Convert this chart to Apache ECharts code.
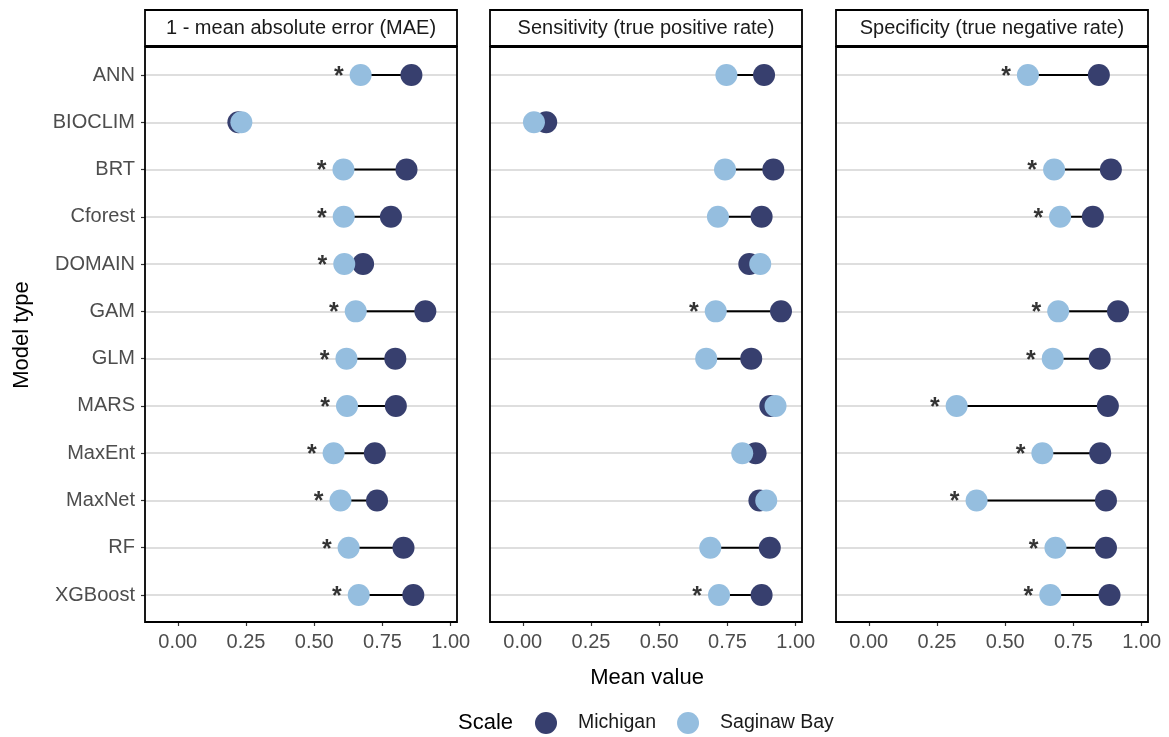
<!DOCTYPE html>
<html>
<head>
<meta charset="utf-8">
<script src="https://cdn.jsdelivr.net/npm/echarts@6/dist/echarts.min.js"></script>
<style>
  html, body { margin: 0; padding: 0; background: #fff; }
  #chart { width: 1169px; height: 737px; }
</style>
</head>
<body>
<div id="chart"></div>
<script>
var categories = ['ANN', 'BIOCLIM', 'BRT', 'Cforest', 'DOMAIN', 'GAM', 'GLM', 'MARS', 'MaxEnt', 'MaxNet', 'RF', 'XGBoost'];
var panelTitles = ['1 - mean absolute error (MAE)', 'Sensitivity (true positive rate)', 'Specificity (true negative rate)'];
var xTicks = [0, 0.25, 0.5, 0.75, 1];

// 1 - MAE
var maeMichigan = [0.856, 0.222, 0.838, 0.781, 0.679, 0.907, 0.797, 0.799, 0.722, 0.730, 0.827, 0.863];
var maeSaginaw  = [0.670, 0.233, 0.607, 0.608, 0.610, 0.652, 0.618, 0.620, 0.571, 0.596, 0.626, 0.663];
var maeSig      = [1, 0, 1, 1, 1, 1, 1, 1, 1, 1, 1, 1];
// sensitivity
var sensMichigan = [0.884, 0.086, 0.918, 0.875, 0.830, 0.946, 0.837, 0.907, 0.853, 0.867, 0.905, 0.875];
var sensSaginaw  = [0.746, 0.041, 0.741, 0.715, 0.870, 0.707, 0.672, 0.926, 0.804, 0.892, 0.687, 0.719];
var sensSig      = [0, 0, 0, 0, 0, 1, 0, 0, 0, 0, 0, 1];
// specificity
var specMichigan = [0.843, null, 0.887, 0.821, null, 0.913, 0.846, 0.876, 0.848, 0.869, 0.869, 0.882];
var specSaginaw  = [0.583, null, 0.679, 0.701, null, 0.694, 0.674, 0.322, 0.636, 0.395, 0.684, 0.665];
var specSig      = [1, 0, 1, 1, 0, 1, 1, 1, 1, 1, 1, 1];

var panels = [
  [maeMichigan, maeSaginaw, maeSig],
  [sensMichigan, sensSaginaw, sensSig],
  [specMichigan, specSaginaw, specSig]
];

var FONT = '"Liberation Sans", Arial, sans-serif';
var DARK = '#373F6E', LIGHT = '#95BEDF';
var lefts = [145, 490, 836];
var PW = 312, FRAME_TOP = 47, FRAME_BOTTOM = 622;
var GRID_TOP = 75, GRID_H = 520;

var myChart = echarts.init(document.getElementById('chart'), null, { renderer: 'canvas' });

var grids = [], xAxes = [], yAxes = [], series = [], graphics = [];

panels.forEach(function (p, k) {
  var mi = p[0], sb = p[1], sig = p[2];
  grids.push({ left: lefts[k], top: GRID_TOP, width: PW, height: GRID_H });
  xAxes.push({
    type: 'value', gridIndex: k, min: -0.12, max: 1.023, position: 'bottom',
    offset: FRAME_BOTTOM - (GRID_TOP + GRID_H),
    axisLine: { show: false, onZero: false },
    axisTick: { show: true, length: 4, customValues: xTicks, lineStyle: { color: '#333', width: 1.2 } },
    axisLabel: { customValues: xTicks, formatter: function (v) { return v.toFixed(2); },
      color: '#4d4d4d', fontSize: 20, fontFamily: FONT, margin: 10 },
    splitLine: { show: false }
  });
  yAxes.push({
    type: 'value', gridIndex: k, inverse: true, min: 0, max: 11, interval: 1, position: 'left',
    axisLine: { show: false, onZero: false },
    axisTick: { show: k === 0, length: 4, lineStyle: { color: '#333', width: 1.2 } },
    axisLabel: { show: k === 0, formatter: function (v) { return categories[v] || ''; },
      color: '#4d4d4d', fontSize: 20, fontFamily: FONT, margin: 10 },
    splitLine: { show: true, lineStyle: { color: '#d3d3d3', width: 1.5 } }
  });

  var seg = [], dMi = [], dSb = [], dSig = [];
  categories.forEach(function (c, i) {
    if (mi[i] == null || sb[i] == null) return;
    seg.push([mi[i], sb[i], i]);
    dMi.push([mi[i], i]);
    dSb.push([sb[i], i]);
    if (sig[i]) dSig.push([Math.min(mi[i], sb[i]), i]);
  });

  series.push({
    type: 'custom', xAxisIndex: k, yAxisIndex: k, silent: true, z: 2,
    data: seg, encode: { x: [0, 1], y: 2 },
    renderItem: function (params, api) {
      var a = api.coord([api.value(0), api.value(2)]);
      var b = api.coord([api.value(1), api.value(2)]);
      return { type: 'line', shape: { x1: a[0], y1: a[1], x2: b[0], y2: b[1] },
        style: { stroke: '#000', lineWidth: 2 } };
    }
  });
  series.push({
    name: 'Michigan', type: 'scatter', xAxisIndex: k, yAxisIndex: k, z: 3, clip: false,
    symbolSize: 22, itemStyle: { color: DARK, opacity: 1 }, data: dMi
  });
  series.push({
    name: 'Saginaw Bay', type: 'scatter', xAxisIndex: k, yAxisIndex: k, z: 4, clip: false,
    symbolSize: 22, itemStyle: { color: LIGHT, opacity: 1 }, data: dSb
  });
  series.push({
    type: 'scatter', xAxisIndex: k, yAxisIndex: k, z: 5, clip: false, silent: true,
    symbolSize: 22, itemStyle: { color: 'rgba(0,0,0,0)' }, data: dSig,
    label: { show: true, formatter: '*', position: 'left', distance: 6, offset: [0, 2],
      fontSize: 25, fontWeight: 'bold', color: '#000', fontFamily: FONT }
  });

  // panel frame and strip
  graphics.push({ type: 'rect', z: 100, silent: true,
    shape: { x: lefts[k], y: FRAME_TOP, width: PW, height: FRAME_BOTTOM - FRAME_TOP },
    style: { fill: 'none', stroke: '#000', lineWidth: 1.8 } });
  graphics.push({ type: 'rect', z: 100, silent: true,
    shape: { x: lefts[k], y: 10, width: PW, height: 36 },
    style: { fill: '#fff', stroke: '#000', lineWidth: 1.8 } });
  graphics.push({ type: 'text', z: 101, silent: true, x: lefts[k] + PW / 2, y: 28,
    style: { text: panelTitles[k], fontSize: 20, fontFamily: FONT, fill: '#1a1a1a',
      align: 'center', verticalAlign: 'middle' } });
});

graphics.push({ type: 'text', silent: true, x: 647, y: 678,
  style: { text: 'Mean value', fontSize: 22, fontFamily: FONT, fill: '#000', align: 'center', verticalAlign: 'middle' } });
graphics.push({ type: 'text', silent: true, x: 22, y: 335, rotation: Math.PI / 2,
  style: { text: 'Model type', fontSize: 22, fontFamily: FONT, fill: '#000', align: 'center', verticalAlign: 'middle' } });
graphics.push({ type: 'text', silent: true, x: 458, y: 723,
  style: { text: 'Scale', fontSize: 22, fontFamily: FONT, fill: '#000', align: 'left', verticalAlign: 'middle' } });

var option = {
  animation: false,
  backgroundColor: '#fff',
  grid: grids,
  xAxis: xAxes,
  yAxis: yAxes,
  legend: {
    data: ['Michigan', 'Saginaw Bay'],
    left: 535, top: 712, padding: 0,
    icon: 'circle', itemWidth: 22, itemHeight: 22, itemGap: 21,
    textStyle: { fontSize: 19.5, fontFamily: FONT, color: '#1a1a1a', padding: [0, 0, 0, 16] }
  },
  graphic: graphics,
  series: series
};

myChart.setOption(option);
</script>
</body>
</html>
